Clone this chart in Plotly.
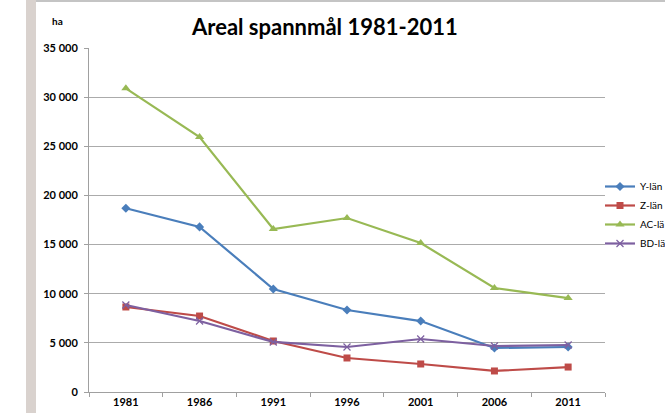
import plotly.graph_objects as go

years = ["1981", "1986", "1991", "1996", "2001", "2006", "2011"]
y_lan = [18700, 16800, 10480, 8340, 7220, 4480, 4580]
z_lan = [8650, 7730, 5190, 3460, 2850, 2140, 2540]
ac_lan = [30900, 25940, 16580, 17700, 15160, 10580, 9560]
bd_lan = [8850, 7220, 5090, 4580, 5390, 4680, 4780]
series_names = ["Y-län", "Z-län", "AC-lä", "BD-lä"]
y_ticks = [0, 5000, 10000, 15000, 20000, 25000, 30000, 35000]
y_ticktext = ["0", "5 000", "10 000", "15 000", "20 000", "25 000", "30 000", "35 000"]

W, H = 665, 413
L, R, T, B = 89, 60, 48, 21
pw = W - L - R
ph = H - T - B

def px_x(x):
    return (x - L) / pw

def px_y(y):
    return (H - B - y) / ph

fig = go.Figure()
styles = [
    (y_lan, "#4A7EBB", dict(symbol="diamond", size=7)),
    (z_lan, "#BE4B48", dict(symbol="square", size=7)),
    (ac_lan, "#98B954", dict(symbol="triangle-up", size=8)),
    (bd_lan, "#7D60A0", dict(symbol="x-thin-open", size=7, line=dict(width=1.2, color="#7D60A0"))),
]
for name, (vals, col, mk) in zip(series_names, styles):
    m = dict(color=col, **mk)
    fig.add_trace(go.Scatter(x=years, y=vals, name=name, mode="lines+markers",
                             line=dict(color=col, width=2.2), marker=m, cliponaxis=False))

fig.update_layout(
    width=W, height=H,
    margin=dict(l=L, r=R, t=T, b=B, autoexpand=False),
    paper_bgcolor="white", plot_bgcolor="white",
    font=dict(family="Lato, Liberation Sans, sans-serif", color="#000000"),
    showlegend=True,
    legend=dict(x=px_x(600), xanchor="left", y=px_y(172), yanchor="top",
                font=dict(size=10), bgcolor="rgba(0,0,0,0)", itemwidth=30, tracegroupgap=0),
    xaxis=dict(type="category", range=[-0.5, len(years) - 0.5], showgrid=False,
               showline=True, linecolor="#A0A0A0", linewidth=1,
               ticks="outside", tickson="boundaries", ticklen=4, tickcolor="#A0A0A0",
               automargin=False, fixedrange=True),
    yaxis=dict(range=[0, 35000], tickvals=y_ticks, ticktext=y_ticktext,
               showgrid=True, gridcolor="#ABABAB", gridwidth=1, zeroline=False,
               showline=True, linecolor="#A0A0A0", linewidth=1,
               ticks="outside", ticklen=4, tickcolor="#A0A0A0",
               automargin=False, ticklabelstandoff=4, fixedrange=True),
    shapes=[
        dict(type="rect", xref="paper", yref="paper", x0=px_x(26), x1=px_x(36),
             y0=px_y(H), y1=px_y(0), fillcolor="#D9D2CE", line=dict(width=0), layer="below"),
        dict(type="line", xref="paper", yref="paper", x0=px_x(36), x1=px_x(W),
             y0=px_y(1), y1=px_y(1), line=dict(color="#B0B0B0", width=1.5)),
    ],
    annotations=[
        dict(text="<b>Areal spannmål 1981-2011</b>", xref="paper", yref="paper",
             x=px_x(324), y=px_y(27), xanchor="center", yanchor="middle", showarrow=False,
             font=dict(size=22)),
        dict(text="<b>ha</b>", xref="paper", yref="paper", x=px_x(57), y=px_y(21),
             xanchor="center", yanchor="middle", showarrow=False, font=dict(size=10)),
    ],
)
fig.update_xaxes(tickfont=dict(size=11, family="Lato, sans-serif", weight="bold"))
fig.update_yaxes(tickfont=dict(size=11, family="Lato, sans-serif", weight="bold"))

fig.write_html("out.html", config={"displayModeBar": False},
               post_script="document.body.style.margin='0';document.body.style.overflow='hidden';")
